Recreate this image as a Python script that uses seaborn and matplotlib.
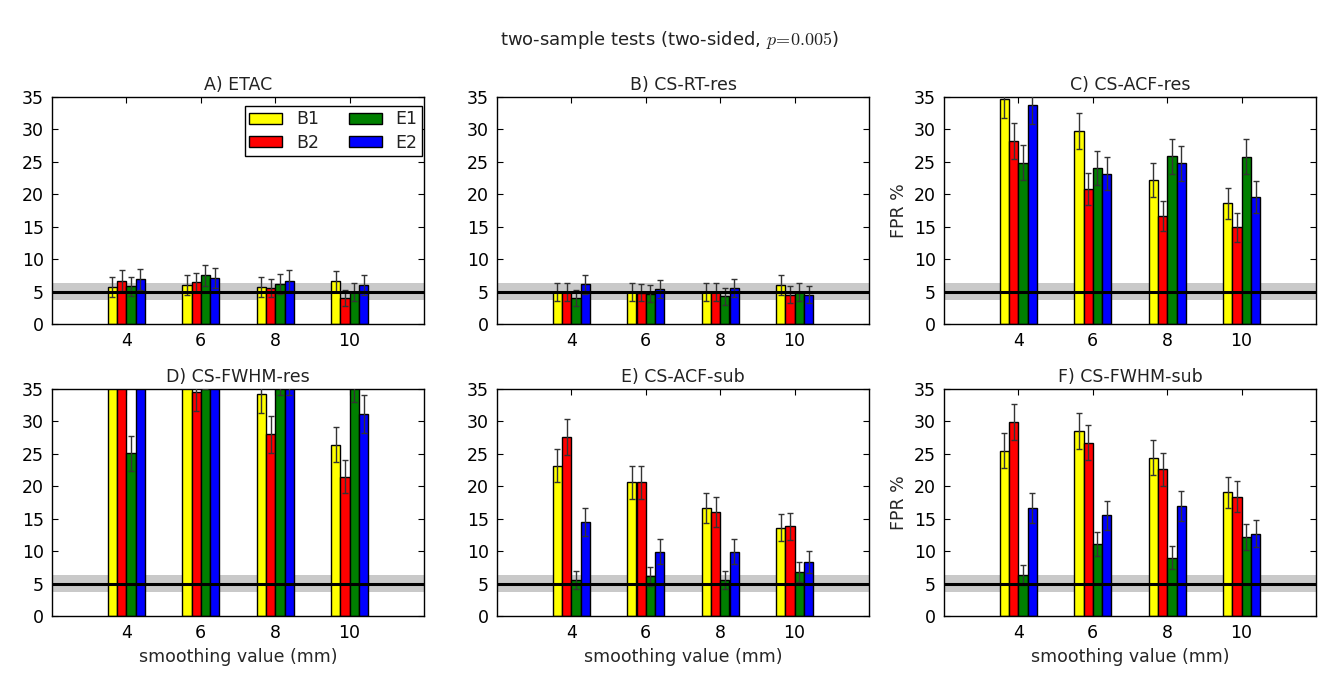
import numpy as np
import pandas as pd
import seaborn as sns
import matplotlib.pyplot as plt

# Smoothing kernels (mm) and the four tested methods
smoothing = [4, 6, 8, 10]
methods = ["B1", "B2", "E1", "E2"]
method_colors = ["#ffff00", "#ff0000", "#008000", "#0000ff"]

# False-positive rates (%), one row per method (B1, B2, E1, E2), one column per smoothing
etac_fpr = [[5.7, 6.0, 5.7, 6.6],
            [6.7, 6.4, 5.5, 4.0],
            [5.8, 7.5, 6.2, 4.9],
            [6.9, 7.1, 6.7, 6.0]]
etac_err = [[1.5, 1.5, 1.5, 1.6],
            [1.6, 1.5, 1.4, 1.2],
            [1.5, 1.6, 1.5, 1.4],
            [1.6, 1.6, 1.6, 1.5]]

rt_res_fpr = [[4.9, 4.9, 4.9, 6.0],
              [4.9, 4.8, 4.9, 4.5],
              [4.0, 4.7, 4.3, 4.9],
              [6.1, 5.4, 5.6, 4.5]]
rt_res_err = [[1.4, 1.4, 1.4, 1.5],
              [1.4, 1.3, 1.4, 1.3],
              [1.2, 1.3, 1.3, 1.4],
              [1.5, 1.4, 1.4, 1.3]]

acf_res_fpr = [[34.7, 29.8, 22.2, 18.6],
               [28.2, 20.8, 16.7, 14.9],
               [24.9, 24.0, 25.9, 25.8],
               [33.7, 23.2, 24.8, 19.6]]
acf_res_err = [[2.9, 2.8, 2.6, 2.4],
               [2.8, 2.5, 2.3, 2.2],
               [2.7, 2.6, 2.7, 2.7],
               [2.9, 2.6, 2.7, 2.5]]

fwhm_res_fpr = [[45.0, 40.0, 34.2, 26.4],
                [42.0, 34.5, 28.0, 21.5],
                [25.1, 38.0, 37.0, 36.0],
                [40.0, 39.0, 37.0, 31.1]]
fwhm_res_err = [[3.1, 3.0, 2.9, 2.7],
                [3.1, 2.9, 2.8, 2.5],
                [2.7, 3.0, 3.0, 3.0],
                [3.0, 3.0, 3.0, 2.9]]

acf_sub_fpr = [[23.2, 20.6, 16.7, 13.6],
               [27.6, 20.6, 16.0, 13.8],
               [5.6, 6.1, 5.5, 6.8],
               [14.5, 9.9, 9.9, 8.3]]
acf_sub_err = [[2.6, 2.5, 2.3, 2.1],
               [2.8, 2.5, 2.3, 2.1],
               [1.4, 1.5, 1.4, 1.6],
               [2.2, 1.9, 1.9, 1.7]]

fwhm_sub_fpr = [[25.5, 28.5, 24.4, 19.1],
                [29.9, 26.7, 22.6, 18.4],
                [6.3, 11.1, 9.0, 12.2],
                [16.7, 15.5, 16.9, 12.7]]
fwhm_sub_err = [[2.7, 2.8, 2.7, 2.4],
                [2.8, 2.7, 2.6, 2.4],
                [1.5, 1.9, 1.8, 2.0],
                [2.3, 2.2, 2.3, 2.1]]

panel_titles = ["A) ETAC", "B) CS-RT-res", "C) CS-ACF-res",
                "D) CS-FWHM-res", "E) CS-ACF-sub", "F) CS-FWHM-sub"]
panel_fpr = [etac_fpr, rt_res_fpr, acf_res_fpr, fwhm_res_fpr, acf_sub_fpr, fwhm_sub_fpr]
panel_err = [etac_err, rt_res_err, acf_res_err, fwhm_res_err, acf_sub_err, fwhm_sub_err]

nominal = 5.0
band_lo, band_hi = 3.7, 6.3

FS = 12.5

sns.set_style("ticks")
plt.rcParams.update({
    "font.family": ["DejaVu Sans"],
    "font.size": FS,
    "mathtext.fontset": "cm",
    "axes.edgecolor": "black",
    "axes.linewidth": 1.0,
    "xtick.color": "black",
    "ytick.color": "black",
    "text.color": "#222222",
})

fig = plt.figure(figsize=(13.23, 6.77), dpi=100)
W, H = 1323.0, 677.0
lefts = [52, 497, 944]
col_w = 372
row_top = [97, 389]
row_h = 227

for k in range(6):
    r, c = divmod(k, 3)
    ax = fig.add_axes([lefts[c] / W, 1 - (row_top[r] + row_h) / H, col_w / W, row_h / H])

    df = pd.DataFrame({
        "smoothing": smoothing * len(methods),
        "method": [m for m in methods for _ in smoothing],
        "fpr": [v for row in panel_fpr[k] for v in row],
    })

    ax.axhspan(band_lo, band_hi, color="#c9c9c9", lw=0, zorder=0)
    sns.barplot(data=df, x="smoothing", y="fpr", hue="method", hue_order=methods,
                palette=method_colors, width=0.5, errorbar=None, saturation=1,
                edgecolor="black", linewidth=1.0, legend=(k == 0), ax=ax, zorder=2)

    bar_containers = list(ax.containers)
    for i, cont in enumerate(bar_containers):
        xs = [b.get_x() + b.get_width() / 2 for b in cont.patches]
        ax.errorbar(xs, panel_fpr[k][i], yerr=panel_err[k][i], fmt="none",
                    ecolor="#333333", elinewidth=1.0, capsize=2, capthick=1.0,
                    zorder=3)

    ax.axhline(nominal, color="black", lw=2.2, zorder=4)

    ax.set_xlim(-1, 4)
    ax.set_ylim(0, 35)
    ax.set_yticks(range(0, 36, 5))
    ax.xaxis.set_ticks_position("both")
    ax.yaxis.set_ticks_position("both")
    ax.tick_params(direction="in", length=4, width=0.8, labelsize=FS, pad=6)
    ax.set_title(panel_titles[k], fontsize=FS, pad=5)
    ax.set_xlabel("smoothing value (mm)" if r == 1 else "", fontsize=FS)
    ax.set_ylabel("FPR %" if c == 2 else "", fontsize=FS)
    for s in ax.spines.values():
        s.set_visible(True)
        s.set_color("black")

    if k == 0:
        leg = ax.legend(ncol=2, loc="upper right",
                        bbox_to_anchor=(1 - 2 / col_w, 1 - 9 / row_h),
                        borderaxespad=0, frameon=True, fancybox=False,
                        edgecolor="black", framealpha=1, fontsize=FS,
                        handlelength=1.9, handleheight=0.6, handletextpad=0.8,
                        columnspacing=1.7, labelspacing=0.3, borderpad=0.25)
        leg.get_frame().set_linewidth(1.0)

fig.text(0.506, 1 - 40 / H, r"two-sample tests (two-sided, $p\!=\!0.005$)",
         ha="center", va="center", fontsize=13)

fig.savefig("out.png", dpi=100, facecolor="white")
